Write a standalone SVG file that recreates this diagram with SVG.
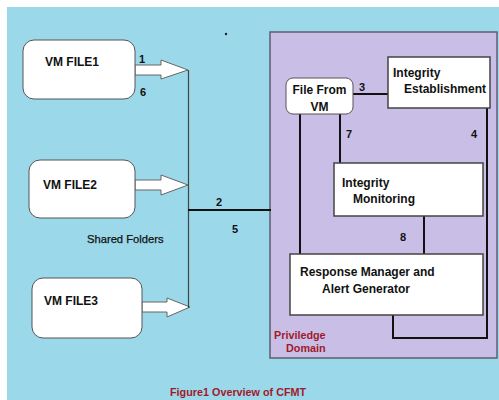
<svg xmlns="http://www.w3.org/2000/svg" width="499" height="400" viewBox="0 0 499 400">
  <defs>
    <style>
      .t { font-family: "Liberation Sans", Arial, sans-serif; font-weight: bold; font-size: 12px; fill: #111; }
      .n { font-family: "Liberation Sans", Arial, sans-serif; font-weight: bold; font-size: 11px; fill: #111; }
      .s { font-family: "Liberation Sans", Arial, sans-serif; font-size: 11.2px; fill: #111; stroke: #111; stroke-width: 0.25; }
      .r { font-family: "Liberation Sans", Arial, sans-serif; font-weight: bold; font-size: 10.8px; fill: #a01a2c; }
      .vm { fill: #ffffff; stroke: #555; stroke-width: 1; }
      .box { fill: #ffffff; stroke: #444; stroke-width: 1.5; }
      .arrow { fill: #ffffff; stroke: #666; stroke-width: 1; stroke-linejoin: miter; }
      .link { fill: none; stroke: #111; stroke-width: 2; }
      .thin { fill: none; stroke: #444; stroke-width: 1.2; }
    </style>
  </defs>

  <!-- page and background -->
  <rect x="0" y="0" width="499" height="400" fill="#ffffff"/>
  <rect x="7" y="7" width="492" height="393" fill="#9bd8e9"/>
  <circle cx="226" cy="34" r="1.2" fill="#222"/>

  <!-- privileged domain -->
  <g id="domain">
    <rect x="270" y="32" width="227" height="326" fill="#c9bfe6" stroke="#5e5e70" stroke-width="1.5"/>
    <text class="r" x="274" y="339">Priviledge</text>
    <text class="r" x="286" y="352">Domain</text>
  </g>

  <!-- connectors -->
  <g id="connectors">
    <!-- shared folder arrows -->
    <path class="arrow" d="M135,65 H161 V60 L188,70 L161,79 V75 H135 Z"/>
    <path class="arrow" d="M135,180 H161 V175 L188,185 L161,195 V190 H135 Z"/>
    <path class="arrow" d="M142,302 H167 V298 L190,307 L167,317 V312 H142 Z"/>
    <line class="thin" x1="188.5" y1="70" x2="188.5" y2="308"/>
    <line class="link" x1="188" y1="210" x2="271" y2="210"/>
    <!-- inside domain -->
    <line class="link" x1="352" y1="94" x2="392" y2="94"/>
    <polyline class="link" points="487,108 487,338 393,338 393,315"/>
    <line class="link" x1="340" y1="114" x2="340" y2="164"/>
    <line class="link" x1="300" y1="114" x2="300" y2="256"/>
    <line class="link" x1="424" y1="216" x2="424" y2="256"/>
    <!-- labels -->
    <text class="n" x="139" y="63">1</text>
    <text class="n" x="140" y="96">6</text>
    <text class="n" x="216" y="206">2</text>
    <text class="n" x="232" y="233">5</text>
    <text class="n" x="359" y="91">3</text>
    <text class="n" x="471" y="138">4</text>
    <text class="n" x="346" y="138">7</text>
    <text class="n" x="400" y="241">8</text>
    <text class="s" x="87" y="243">Shared Folders</text>
  </g>

  <g id="vm-file1">
    <rect class="vm" x="23" y="40" width="112" height="59" rx="11"/>
    <text class="t" x="45" y="66">VM FILE1</text>
  </g>
  <g id="vm-file2">
    <rect class="vm" x="29" y="160" width="106" height="58" rx="11"/>
    <text class="t" x="43" y="189">VM FILE2</text>
  </g>
  <g id="vm-file3">
    <rect class="vm" x="32" y="278" width="110" height="60" rx="11"/>
    <text class="t" x="44" y="305">VM FILE3</text>
  </g>

  <g id="file-from-vm">
    <rect class="vm" x="286" y="78" width="67" height="36" rx="7"/>
    <text class="t" x="319.5" y="94" text-anchor="middle">File From</text>
    <text class="t" x="319.5" y="111" text-anchor="middle">VM</text>
  </g>
  <g id="integrity-establishment">
    <rect class="box" x="388" y="57" width="102" height="51"/>
    <text class="t" x="393" y="77">Integrity</text>
    <text class="t" x="404" y="93">Establishment</text>
  </g>
  <g id="integrity-monitoring">
    <rect class="box" x="334" y="163" width="149" height="53"/>
    <text class="t" x="342" y="187">Integrity</text>
    <text class="t" x="353" y="203">Monitoring</text>
  </g>
  <g id="response-manager">
    <rect class="box" x="290" y="254" width="193" height="61"/>
    <text class="t" x="300" y="276">Response Manager and</text>
    <text class="t" x="322" y="293">Alert Generator</text>
  </g>

  <text class="r" x="170" y="396">Figure1 Overview of CFMT</text>
</svg>
